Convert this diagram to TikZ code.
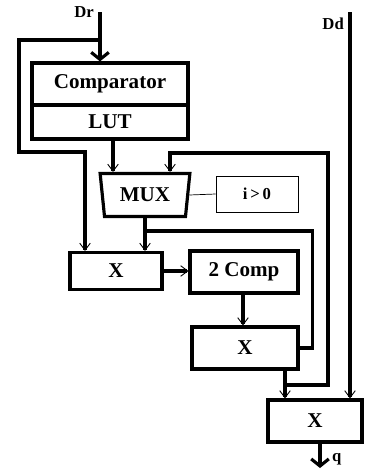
\documentclass[tikz,border=0pt]{standalone}
\usepackage{fontspec}
\setmainfont{Liberation Serif}
\usetikzlibrary{arrows.meta,shapes.geometric}

\begin{document}
\begin{tikzpicture}[x=0.02cm, y=-0.02cm,
    sigline/.style={draw, line width=1.8pt},
    feed/.style={sigline, -{Straight Barb[length=4pt,width=6pt,line width=0.5pt]}},
    bigfeed/.style={sigline, -{Straight Barb[length=4pt,width=10pt,line width=1.8pt]}},
    block/.style={draw, line width=1.8pt, inner sep=0pt, font=\fontsize{12}{14}\selectfont\bfseries},
    lbl/.style={font=\fontsize{9.5}{11}\selectfont\bfseries}]
    \useasboundingbox (0,0) rectangle (367,474);

    % Blocks
    \node[block, minimum width=3.12cm, minimum height=0.84cm] (comp) at (110,84) {Comparator};
    \node[block, minimum width=3.12cm, minimum height=0.68cm] (lut) at (110,122) {LUT};
    \node[block, trapezium, trapezium stretches=true, trapezium angle=79, shape border rotate=180,
        minimum width=1.8cm, minimum height=0.86cm] (mux) at (145,195) {MUX};
    \node[draw, thin, minimum width=1.64cm, minimum height=0.72cm, lbl] (cond) at (257,194) {i\,>\,0};
    \node[block, minimum width=1.84cm, minimum height=0.74cm] (mul1) at (116,271) {X};
    \node[block, minimum width=2.16cm, minimum height=0.84cm] (twocomp) at (244,272) {2 Comp};
    \node[block, minimum width=2.12cm, minimum height=0.84cm] (mul2) at (245,348) {X};
    \node[block, minimum width=1.88cm, minimum height=0.84cm] (mul3) at (315,421) {X};

    % Inputs
    \coordinate (dr) at (100,12);
    \coordinate (drsplit) at (100,40);
    \coordinate (dd) at (350,12);
    \node[lbl, anchor=east] at (dr) {Dr};
    \node[lbl, anchor=north east] at (dd) {Dd};
    \path[bigfeed] (dr) -- (dr |- comp.north);
    \path[feed] (drsplit) -- (19,40) -- (19,152) -- (85,152) -- (85,0 |- mul1.north);
    \path[feed] (dd) -- (dd |- mul3.north);

    % Datapath
    \path[feed] ([shift={(3,0)}]lut.south) -- ([shift={(3,0)}]lut.south |- mux.north);
    \draw[thin] (mux.east) -- (cond.west);
    \coordinate (muxsplit) at (145,231);
    \path[feed] (mux.south) -- (mux.south |- mul1.north);
    \path[sigline] (muxsplit) -| ([shift={(13,0)}]mul2.east) -- (mul2.east);
    \path[feed] (mul1.east) -- (twocomp.west |- mul1.east);
    \path[feed] ([shift={(-1,0)}]twocomp.south) -- ([shift={(-1,0)}]twocomp.south |- mul2.north);

    % Feedback to MUX
    \coordinate (fb) at (285,385);
    \coordinate (fbtop) at (328,153);
    \path[feed] ([shift={(40,0)}]mul2.south) -- ([shift={(40,0)}]mul2.south |- mul3.north);
    \path[feed] (fb) -| (fbtop) -| ([shift={(25,0)}]mux.north);

    % Output
    \coordinate (q) at (320,468);
    \path[bigfeed] ([shift={(5,0)}]mul3.south) -- (q);
    \node[lbl, anchor=west] at (326,459) {q};
\end{tikzpicture}
\end{document}
